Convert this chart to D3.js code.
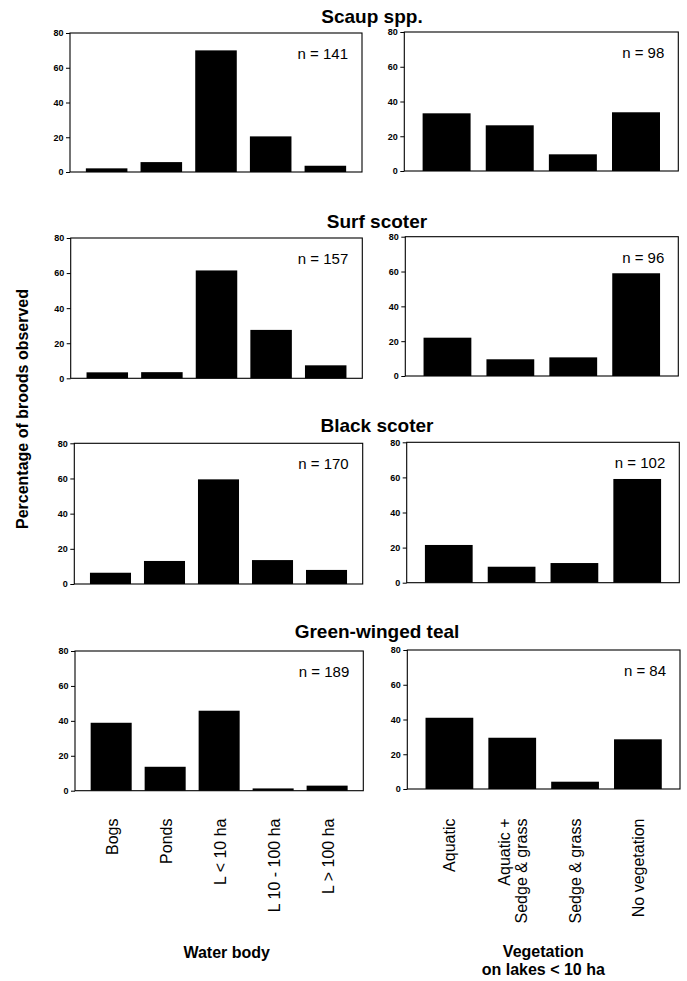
<!DOCTYPE html>
<html><head><meta charset="utf-8">
<script src="https://cdn.jsdelivr.net/npm/d3@7"></script>
<style>
body{margin:0;background:#fff;}
svg{display:block;font-family:"Liberation Sans",Arial,Helvetica,sans-serif;}
</style></head>
<body><svg id="c" width="687" height="981"></svg>
<script>
// ---- data ----
const waterCategories = ["Bogs", "Ponds", "L < 10 ha", "L 10 - 100 ha", "L > 100 ha"];
const vegCategories = [["Aquatic"], ["Aquatic +", "Sedge & grass"], ["Sedge & grass"], ["No vegetation"]];
const species = ["Scaup spp.", "Surf scoter", "Black scoter", "Green-winged teal"];
const scaupWater = [2.1, 5.7, 70, 20.5, 3.6];
const scaupVeg = [33.2, 26.3, 9.6, 33.8];
const surfWater = [3.4, 3.5, 61.5, 27.6, 7.4];
const surfVeg = [22, 9.6, 10.7, 59];
const blackWater = [6.4, 13.1, 59.5, 13.6, 8.0];
const blackVeg = [21.5, 9.1, 11.2, 59.1];
const tealWater = [38.9, 13.7, 45.8, 1.3, 2.9];
const tealVeg = [41, 29.5, 4.2, 28.6];
const nWater = [141, 157, 170, 189];
const nVeg = [98, 96, 102, 84];
const yTicks = [0, 20, 40, 60, 80];
const waterLabel = "Water body";
const vegLabel = ["Vegetation", "on lakes < 10 ha"];
const yLabel = "Percentage of broods observed";

const waterSeries = [scaupWater, surfWater, blackWater, tealWater];
const vegSeries = [scaupVeg, surfVeg, blackVeg, tealVeg];

// ---- layout ----
const leftRects = [[70, 33, 362, 172], [70.7, 238, 362.3, 378.3], [74.3, 443.3, 362.7, 584], [75, 651, 363.3, 790.7]];
const rightRects = [[404.3, 32, 678.3, 171], [405.3, 236.7, 678.3, 376], [406.7, 442.3, 679.3, 582.7], [407.3, 650, 680, 789]];
const titlePos = [[372, 23.3], [377, 228.3], [377, 431.7], [377, 638.3]];

const svg = d3.select("#c");

function panel(rect, cats, vals, n) {
  const [x0, y0, x1, y1] = rect;
  const x = d3.scaleBand().domain(d3.range(cats.length)).range([x0, x1]).paddingInner(0.24).paddingOuter(0.29);
  const y = d3.scaleLinear().domain([0, 80]).range([y1, y0]);
  const g = svg.append("g");
  g.selectAll("rect.bar").data(vals).join("rect").attr("class", "bar")
    .attr("x", (d, i) => x(i)).attr("width", x.bandwidth())
    .attr("y", d => y(d)).attr("height", d => y(0) - y(d)).attr("fill", "#000");
  g.append("rect").attr("x", x0).attr("y", y0).attr("width", x1 - x0).attr("height", y1 - y0)
    .attr("fill", "none").attr("stroke", "#000").attr("stroke-width", 1.1);
  const ax = g.append("g").attr("transform", `translate(${x0},0)`)
    .call(d3.axisLeft(y).tickValues(yTicks).tickSize(4).tickPadding(2.5));
  ax.select(".domain").remove();
  ax.selectAll("text").attr("font-size", 9).attr("font-weight", "bold")
    .attr("font-family", "'Liberation Sans',Arial,sans-serif").attr("fill", "#000");
  ax.selectAll("line").attr("stroke", "#000");
  g.append("text").attr("x", x1 - 14).attr("y", y0 + 26).attr("text-anchor", "end")
    .attr("font-size", 15).text("n = " + n);
  return x;
}

let lastWaterX, lastVegX;
species.forEach((s, i) => {
  svg.append("text").attr("x", titlePos[i][0]).attr("y", titlePos[i][1]).attr("text-anchor", "middle")
    .attr("font-size", 19).attr("font-weight", "bold").text(s);
  lastWaterX = panel(leftRects[i], waterCategories, waterSeries[i], nWater[i]);
  lastVegX = panel(rightRects[i], vegCategories, vegSeries[i], nVeg[i]);
});

// category labels
const labTop = 818.5;
waterCategories.forEach((c, i) => {
  const cx = lastWaterX(i) + lastWaterX.bandwidth() / 2;
  svg.append("text").attr("transform", `translate(${cx + 6.5},${labTop}) rotate(-90)`)
    .attr("text-anchor", "end").attr("font-size", 16).text(c);
});
vegCategories.forEach((lines, i) => {
  const cx = lastVegX(i) + lastVegX.bandwidth() / 2;
  lines.forEach((t, j) => {
    const off = (j - (lines.length - 1) / 2) * 17;
    svg.append("text").attr("transform", `translate(${cx + off + 6},${labTop}) rotate(-90)`)
      .attr("text-anchor", "end").attr("font-size", 16).text(t);
  });
});

svg.append("text").attr("x", 226.7).attr("y", 958).attr("text-anchor", "middle")
  .attr("font-size", 16).attr("font-weight", "bold").text(waterLabel);
vegLabel.forEach((t, j) => {
  svg.append("text").attr("x", 543.3).attr("y", 956.7 + j * 18.3).attr("text-anchor", "middle")
    .attr("font-size", 16).attr("font-weight", "bold").text(t);
});
svg.append("text").attr("transform", "translate(27.5,409) rotate(-90)").attr("text-anchor", "middle")
  .attr("font-size", 16).attr("font-weight", "bold").text(yLabel);
</script>
</body></html>
